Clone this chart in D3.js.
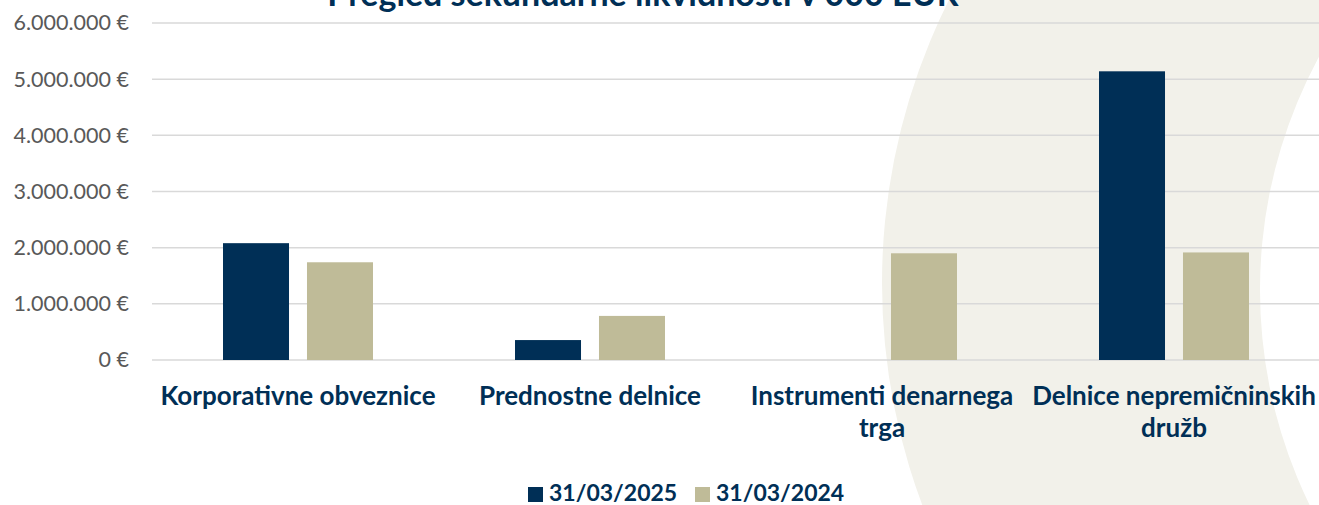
<!DOCTYPE html>
<html>
<head>
<meta charset="utf-8">
<script src="https://cdn.jsdelivr.net/npm/d3@7"></script>
<style>
  body { margin: 0; background: #fff; }
  svg { display: block; font-family: Lato, "Open Sans", sans-serif; }
</style>
</head>
<body>
<script>
// data
var categories = [["Korporativne obveznice"], ["Prednostne delnice"], ["Instrumenti denarnega", "trga"], ["Delnice nepremičninskih", "družb"]];
var series = ["31/03/2025", "31/03/2024"];
var values2025 = [2080000, 355000, 0, 5140000];
var values2024 = [1740000, 785000, 1900000, 1915000];
var yTicks = [0, 1000000, 2000000, 3000000, 4000000, 5000000, 6000000];
var title = "Pregled sekundarne likvidnosti v 000 EUR";

var w = 1319, h = 505;
var navy = "#002f56", beige = "#bfbb98";

var svg = d3.select("body").append("svg")
    .attr("width", w)
    .attr("height", h);

// background crescent
svg.append("path")
    .attr("fill", "#f2f1ea")
    .attr("fill-rule", "evenodd")
    .attr("d", function() {
        var p = d3.path();
        p.moveTo(1514 + 632, 283);
        p.arc(1514, 283, 632, 0, 2 * Math.PI);
        p.moveTo(1750 + 490, 290);
        p.arc(1750, 290, 490, 0, 2 * Math.PI);
        return p.toString();
    });

var x0 = d3.scaleBand()
    .domain(d3.range(categories.length))
    .range([152, 1320]);

var x1 = d3.scaleBand()
    .domain(series)
    .range([x0.bandwidth() / 2 - 75, x0.bandwidth() / 2 + 75])
    .paddingInner(0.214);

var y = d3.scaleLinear()
    .domain([0, 6000000])
    .range([360, 23]);

var locale = d3.formatLocale({ decimal: ",", thousands: ".", grouping: [3], currency: ["", " €"] });
var fmt = locale.format("$,.0f");

// gridlines
svg.append("g")
    .selectAll("line")
    .data(yTicks)
    .enter()
    .append("line")
    .attr("x1", 152)
    .attr("x2", w)
    .attr("y1", function(d) { return y(d); })
    .attr("y2", function(d) { return y(d); })
    .attr("stroke", "#d9d9d9")
    .attr("stroke-width", 1.5);

// y axis
var yAxis = svg.append("g")
    .attr("transform", "translate(152,0)")
    .call(d3.axisLeft(y).tickValues(yTicks).tickFormat(fmt).tickSize(0).tickPadding(23));
yAxis.select(".domain").remove();
yAxis.selectAll("text")
    .attr("font-family", "Lato, sans-serif")
    .attr("font-size", "21.5px")
    .attr("fill", "#595959");

// bars
var rows = categories.map(function(c, i) {
    return [{ s: series[0], v: values2025[i] }, { s: series[1], v: values2024[i] }];
});

var groups = svg.append("g")
    .selectAll("g")
    .data(rows)
    .enter()
    .append("g")
    .attr("transform", function(d, i) { return "translate(" + x0(i) + ",0)"; });

groups.selectAll("rect")
    .data(function(d) { return d; })
    .enter()
    .append("rect")
    .attr("x", function(d) { return x1(d.s); })
    .attr("y", function(d) { return y(d.v); })
    .attr("width", x1.bandwidth())
    .attr("height", function(d) { return y(0) - y(d.v); })
    .attr("fill", function(d) { return d.s === series[0] ? navy : beige; });

// category labels
var cat = svg.append("g")
    .selectAll("text")
    .data(categories)
    .enter()
    .append("text")
    .attr("text-anchor", "middle")
    .attr("font-size", "26px")
    .attr("font-weight", "bold")
    .attr("fill", navy)
    .attr("transform", function(d, i) {
        return "translate(" + (x0(i) + x0.bandwidth() / 2) + ",405)";
    });
cat.selectAll("tspan")
    .data(function(d) { return d; })
    .enter()
    .append("tspan")
    .attr("x", 0)
    .attr("y", function(d, i) { return i * 32; })
    .text(function(d) { return d; });

// title (cut off at the top like the reference)
svg.append("text")
    .attr("x", 643)
    .attr("y", 6)
    .attr("text-anchor", "middle")
    .attr("font-size", "34px")
    .attr("font-weight", "bold")
    .attr("fill", navy)
    .text(title);

// legend
var legend = svg.append("g")
    .selectAll("g")
    .data(series)
    .enter()
    .append("g")
    .attr("transform", function(d, i) { return "translate(" + (528 + i * 167) + ",0)"; });
legend.append("rect")
    .attr("y", 487)
    .attr("width", 15)
    .attr("height", 15)
    .attr("fill", function(d, i) { return i === 0 ? navy : beige; });
legend.append("text")
    .attr("x", 21)
    .attr("y", 501)
    .attr("font-size", "23px")
    .attr("font-weight", "bold")
    .attr("fill", navy)
    .text(function(d) { return d; });
</script>
</body>
</html>
